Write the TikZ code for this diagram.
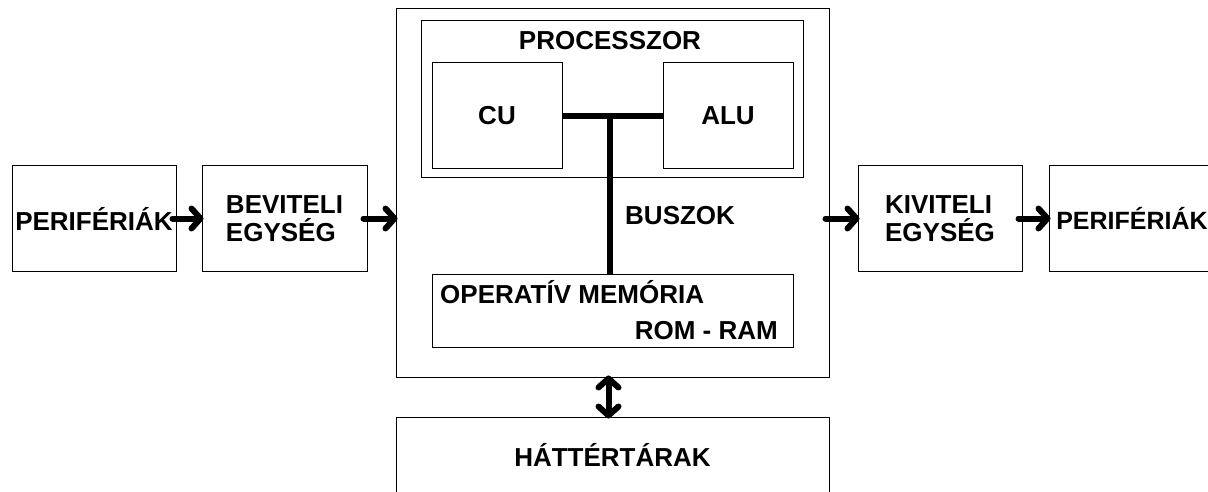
\documentclass[tikz,border=0pt]{standalone}
\usepackage{fontspec}
\setmainfont{Liberation Sans}
\usetikzlibrary{arrows, arrows.meta}
\usetikzlibrary{calc}

\begin{document}
\begin{tikzpicture}[x=1pt, y=-1pt,
    every node/.style={font=\fontsize{26}{28}\selectfont\bfseries, inner sep=0pt},
    box/.style={draw, line width=1pt, align=left},
    arr/.style={-{Straight Barb[length=9pt, width=20pt, round]}, line width=6pt, line cap=round, shorten <=-4pt, shorten >=-2pt},
    darr/.style={{Straight Barb[length=9pt, width=20pt, round]}-{Straight Barb[length=9pt, width=20pt, round]}, line width=6pt, shorten <=-2pt, shorten >=-2pt},
    bus/.style={line width=6pt}]
    \useasboundingbox (0,0) rectangle (1208,492);
    \clip (0,0) rectangle (1208,492);

    \node[box, minimum width=164pt, minimum height=105pt] (per1) at (94,218.5) {PERIFÉRIÁK};
    \node[box, minimum width=165pt, minimum height=105pt] (bev) at (284.5,218.5) {BEVITELI\\EGYSÉG};
    \node[box, minimum width=433pt, minimum height=368pt] (main) at (612.5,193) {};
    \node[box, minimum width=382pt, minimum height=157pt] (proc) at (612,99.5) {};
    \node (proctext) at (610,41) {PROCESSZOR};
    \node[box, minimum width=130pt, minimum height=106pt] (cu) at (497,116) {CU};
    \node[box, minimum width=130pt, minimum height=106pt] (alu) at (728,116) {ALU};
    \node[box, minimum width=361pt, minimum height=73pt] (mem) at (612.5,310.5) {};
    \node[anchor=base west] (memtop) at (440,303) {OPERATÍV MEMÓRIA};
    \node[anchor=base east] (membot) at (778,339) {ROM - RAM};
    \node[anchor=west] (buszok) at (625,216) {BUSZOK};
    \node[box, minimum width=164pt, minimum height=105pt] (kiv) at (940,218.5) {KIVITELI\\EGYSÉG};
    \node[box, minimum width=166pt, minimum height=105pt, font=\fontsize{25}{28}\selectfont\bfseries] (per2) at (1132,218.5) {PERIFÉRIÁK};
    \node[box, minimum width=433pt, minimum height=76pt] (hat) at (612.5,455) {HÁTTÉRTÁRAK};

    \coordinate (busmid) at ($(cu.east)!0.47!(alu.west)$);
    \draw[bus] (cu.east) -- (alu.west);
    \draw[bus] (busmid) -- (busmid |- mem.north);

    \draw[arr] (per1.east) -- (bev.west);
    \draw[arr] (bev.east) -- (bev.east -| main.west);
    \draw[arr] (kiv.west -| main.east) -- (kiv.west);
    \draw[arr] (kiv.east) -- (per2.west);
    \draw[darr] ([xshift=-4pt]main.south) -- ([xshift=-4pt]hat.north);
\end{tikzpicture}
\end{document}
